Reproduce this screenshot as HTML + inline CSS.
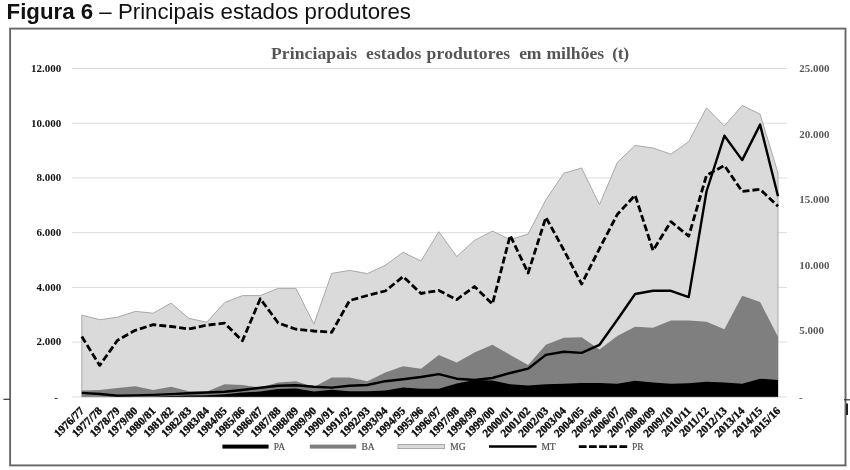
<!DOCTYPE html>
<html><head><meta charset="utf-8"><title>Figura 6</title>
<style>
html,body{margin:0;padding:0;background:#fff;}
body{width:850px;height:470px;position:relative;overflow:hidden;font-family:"Liberation Sans",sans-serif;}
.cap{position:absolute;left:6.6px;top:-1.3px;font-size:22.25px;line-height:26px;color:#111;white-space:nowrap;}
.cap b{font-weight:bold}
svg text{font-family:"Liberation Serif",serif;font-weight:bold;}
.ax{font-size:11px;fill:#111;}
.axr{font-size:11px;fill:#5a5a5a;}
.cat{font-size:11.3px;fill:#0a0a0a;stroke:#0a0a0a;stroke-width:0.35px;}
.title{font-size:17.6px;fill:#555;white-space:pre;}
.lg{font-size:9.5px;fill:#505050;stroke:#505050;stroke-width:0.2px;font-weight:normal!important;}
</style></head><body>
<svg width="850" height="470" viewBox="0 0 850 470" style="position:absolute;left:0;top:0">
<rect x="10.1" y="28.6" width="835.4" height="436.8" fill="#fff" stroke="#666" stroke-width="1.9"/>
<line x1="72" x2="787" y1="68.50" y2="68.50" stroke="#dcdcdc" stroke-width="1"/>
<line x1="72" x2="787" y1="123.22" y2="123.22" stroke="#dcdcdc" stroke-width="1"/>
<line x1="72" x2="787" y1="177.94" y2="177.94" stroke="#dcdcdc" stroke-width="1"/>
<line x1="72" x2="787" y1="232.66" y2="232.66" stroke="#dcdcdc" stroke-width="1"/>
<line x1="72" x2="787" y1="287.38" y2="287.38" stroke="#dcdcdc" stroke-width="1"/>
<line x1="72" x2="787" y1="342.10" y2="342.10" stroke="#dcdcdc" stroke-width="1"/>
<line x1="72" x2="787" y1="396.9" y2="396.9" stroke="#dcdcdc" stroke-width="1"/>
<polygon points="81.8,315.2 99.7,319.7 117.5,317.2 135.3,311.4 153.2,313.2 171.1,303.1 188.9,318.4 206.8,322.2 224.6,302.6 242.4,295.6 260.3,295.6 278.2,288.4 296.0,288.4 313.9,324.2 331.7,273.4 349.6,270.4 367.4,273.6 385.3,265.3 403.1,252.3 421.0,261.0 438.8,231.7 456.7,256.5 474.5,240.4 492.4,231.1 510.2,239.6 528.1,234.1 545.9,199.7 563.8,173.3 581.6,168.0 599.5,204.7 617.3,162.5 635.1,145.4 653.0,148.0 670.9,154.2 688.7,141.7 706.5,107.8 724.4,126.0 742.2,105.5 760.1,114.2 778.0,173.0 778.0,396.8 81.8,396.8" fill="#dadada" stroke="#a8a8a8" stroke-width="1"/>
<polygon points="81.8,390.6 99.7,390.0 117.5,388.0 135.3,386.2 153.2,390.0 171.1,386.8 188.9,391.2 206.8,391.5 224.6,384.3 242.4,385.0 260.3,387.5 278.2,382.5 296.0,381.2 313.9,387.0 331.7,377.5 349.6,377.5 367.4,381.2 385.3,372.5 403.1,366.2 421.0,368.7 438.8,354.9 456.7,362.6 474.5,352.4 492.4,344.8 510.2,354.9 528.1,364.9 545.9,344.8 563.8,337.8 581.6,337.3 599.5,349.5 617.3,336.0 635.1,326.7 653.0,327.7 670.9,320.4 688.7,320.4 706.5,321.7 724.4,329.2 742.2,295.8 760.1,302.1 778.0,336.8 778.0,396.8 81.8,396.8" fill="#7f7f7f"/>
<polygon points="81.8,396.8 99.7,396.8 117.5,396.9 135.3,396.8 153.2,396.5 171.1,396.0 188.9,395.6 206.8,395.3 224.6,394.3 242.4,392.6 260.3,391.5 278.2,389.0 296.0,388.4 313.9,391.5 331.7,389.8 349.6,391.2 367.4,391.3 385.3,390.5 403.1,387.5 421.0,388.8 438.8,388.8 456.7,383.5 474.5,380.0 492.4,380.5 510.2,384.3 528.1,385.5 545.9,384.3 563.8,383.8 581.6,383.0 599.5,383.0 617.3,383.8 635.1,380.7 653.0,382.5 670.9,383.8 688.7,383.3 706.5,381.7 724.4,382.5 742.2,383.8 760.1,378.7 778.0,380.0 778.0,396.8 81.8,396.8" fill="#000"/>
<polyline points="81.8,392.9 99.7,394.0 117.5,395.6 135.3,395.4 153.2,394.9 171.1,394.1 188.9,393.3 206.8,392.5 224.6,391.8 242.4,390.0 260.3,387.8 278.2,385.8 296.0,385.2 313.9,386.7 331.7,387.6 349.6,385.8 367.4,385.0 385.3,381.2 403.1,379.2 421.0,377.0 438.8,374.1 456.7,378.7 474.5,380.0 492.4,378.0 510.2,373.0 528.1,368.7 545.9,354.9 563.8,351.8 581.6,352.9 599.5,344.8 617.3,319.7 635.1,294.0 653.0,290.8 670.9,290.8 688.7,297.1 706.5,191.5 724.4,135.7 742.2,160.1 760.1,124.6 778.0,196.2" fill="none" stroke="#000" stroke-width="2.4" stroke-linejoin="round"/>
<polyline points="81.8,336.5 99.7,365.4 117.5,340.3 135.3,330.3 153.2,324.7 171.1,326.5 188.9,329.0 206.8,325.2 224.6,323.2 242.4,340.8 260.3,298.8 278.2,323.0 296.0,329.2 313.9,331.0 331.7,332.3 349.6,300.5 367.4,295.5 385.3,291.0 403.1,276.6 421.0,293.5 438.8,290.4 456.7,299.7 474.5,286.5 492.4,304.1 510.2,235.4 528.1,273.0 545.9,217.3 563.8,250.0 581.6,284.0 599.5,248.6 617.3,214.4 635.1,195.2 653.0,250.5 670.9,221.6 688.7,236.2 706.5,175.3 724.4,165.5 742.2,191.5 760.1,189.3 778.0,206.3" fill="none" stroke="#000" stroke-width="2.8" stroke-dasharray="7 3" stroke-linejoin="round"/>
<text x="61.2" y="71.8" text-anchor="end" class="ax">12.000</text>
<text x="61.2" y="126.5" text-anchor="end" class="ax">10.000</text>
<text x="61.2" y="181.2" text-anchor="end" class="ax">8.000</text>
<text x="61.2" y="236.0" text-anchor="end" class="ax">6.000</text>
<text x="61.2" y="290.7" text-anchor="end" class="ax">4.000</text>
<text x="61.2" y="345.4" text-anchor="end" class="ax">2.000</text>
<text x="58" y="401" text-anchor="end" class="ax">-</text>
<text x="799.3" y="71.8" class="axr">25.000</text>
<text x="799.3" y="137.5" class="axr">20.000</text>
<text x="799.3" y="203.1" class="axr">15.000</text>
<text x="799.3" y="268.8" class="axr">10.000</text>
<text x="799.3" y="334.4" class="axr">5.000</text>
<text x="799" y="400.5" class="axr">-</text>
<text transform="translate(84.8,411.5) rotate(-45)" text-anchor="end" class="cat">1976/77</text>
<text transform="translate(102.7,411.5) rotate(-45)" text-anchor="end" class="cat">1977/78</text>
<text transform="translate(120.5,411.5) rotate(-45)" text-anchor="end" class="cat">1978/79</text>
<text transform="translate(138.3,411.5) rotate(-45)" text-anchor="end" class="cat">1979/80</text>
<text transform="translate(156.2,411.5) rotate(-45)" text-anchor="end" class="cat">1980/81</text>
<text transform="translate(174.1,411.5) rotate(-45)" text-anchor="end" class="cat">1981/82</text>
<text transform="translate(191.9,411.5) rotate(-45)" text-anchor="end" class="cat">1982/83</text>
<text transform="translate(209.8,411.5) rotate(-45)" text-anchor="end" class="cat">1983/84</text>
<text transform="translate(227.6,411.5) rotate(-45)" text-anchor="end" class="cat">1984/85</text>
<text transform="translate(245.4,411.5) rotate(-45)" text-anchor="end" class="cat">1985/86</text>
<text transform="translate(263.3,411.5) rotate(-45)" text-anchor="end" class="cat">1986/87</text>
<text transform="translate(281.2,411.5) rotate(-45)" text-anchor="end" class="cat">1987/88</text>
<text transform="translate(299.0,411.5) rotate(-45)" text-anchor="end" class="cat">1988/89</text>
<text transform="translate(316.9,411.5) rotate(-45)" text-anchor="end" class="cat">1989/90</text>
<text transform="translate(334.7,411.5) rotate(-45)" text-anchor="end" class="cat">1990/91</text>
<text transform="translate(352.6,411.5) rotate(-45)" text-anchor="end" class="cat">1991/92</text>
<text transform="translate(370.4,411.5) rotate(-45)" text-anchor="end" class="cat">1992/93</text>
<text transform="translate(388.3,411.5) rotate(-45)" text-anchor="end" class="cat">1993/94</text>
<text transform="translate(406.1,411.5) rotate(-45)" text-anchor="end" class="cat">1994/95</text>
<text transform="translate(424.0,411.5) rotate(-45)" text-anchor="end" class="cat">1995/96</text>
<text transform="translate(441.8,411.5) rotate(-45)" text-anchor="end" class="cat">1996/97</text>
<text transform="translate(459.7,411.5) rotate(-45)" text-anchor="end" class="cat">1997/98</text>
<text transform="translate(477.5,411.5) rotate(-45)" text-anchor="end" class="cat">1998/99</text>
<text transform="translate(495.4,411.5) rotate(-45)" text-anchor="end" class="cat">1999/00</text>
<text transform="translate(513.2,411.5) rotate(-45)" text-anchor="end" class="cat">2000/01</text>
<text transform="translate(531.1,411.5) rotate(-45)" text-anchor="end" class="cat">2001/02</text>
<text transform="translate(548.9,411.5) rotate(-45)" text-anchor="end" class="cat">2002/03</text>
<text transform="translate(566.8,411.5) rotate(-45)" text-anchor="end" class="cat">2003/04</text>
<text transform="translate(584.6,411.5) rotate(-45)" text-anchor="end" class="cat">2004/05</text>
<text transform="translate(602.5,411.5) rotate(-45)" text-anchor="end" class="cat">2005/06</text>
<text transform="translate(620.3,411.5) rotate(-45)" text-anchor="end" class="cat">2006/07</text>
<text transform="translate(638.1,411.5) rotate(-45)" text-anchor="end" class="cat">2007/08</text>
<text transform="translate(656.0,411.5) rotate(-45)" text-anchor="end" class="cat">2008/09</text>
<text transform="translate(673.9,411.5) rotate(-45)" text-anchor="end" class="cat">2009/10</text>
<text transform="translate(691.7,411.5) rotate(-45)" text-anchor="end" class="cat">2010/11</text>
<text transform="translate(709.5,411.5) rotate(-45)" text-anchor="end" class="cat">2011/12</text>
<text transform="translate(727.4,411.5) rotate(-45)" text-anchor="end" class="cat">2012/13</text>
<text transform="translate(745.2,411.5) rotate(-45)" text-anchor="end" class="cat">2013/14</text>
<text transform="translate(763.1,411.5) rotate(-45)" text-anchor="end" class="cat">2014/15</text>
<text transform="translate(781.0,411.5) rotate(-45)" text-anchor="end" class="cat">2015/16</text>
<text x="270.9" y="59.3" textLength="86.1" lengthAdjust="spacing" class="title">Princiapais</text>
<text x="366.0" y="59.3" textLength="55.3" lengthAdjust="spacing" class="title">estados</text>
<text x="426.6" y="59.3" textLength="83.6" lengthAdjust="spacing" class="title">produtores</text>
<text x="519.2" y="59.3" textLength="22.2" lengthAdjust="spacing" class="title">em</text>
<text x="546.4" y="59.3" textLength="57.7" lengthAdjust="spacing" class="title">milhões</text>
<text x="612.3" y="59.3" textLength="16.9" lengthAdjust="spacing" class="title">(t)</text>
<rect x="222.4" y="444.6" width="46.2" height="4" fill="#000"/>
<text x="273.8" y="449.70000000000005" class="lg">PA</text>
<rect x="309.8" y="444.6" width="46.4" height="4" fill="#7f7f7f"/>
<text x="361.4" y="449.70000000000005" class="lg">BA</text>
<rect x="398" y="444.6" width="46.6" height="4" fill="#dadada" stroke="#a0a0a0" stroke-width="0.9"/>
<text x="450.2" y="449.70000000000005" class="lg">MG</text>
<line x1="489" x2="536.6" y1="446.6" y2="446.6" stroke="#000" stroke-width="2.5"/>
<text x="541.4" y="449.70000000000005" class="lg">MT</text>
<line x1="578.8" x2="627.2" y1="446.6" y2="446.6" stroke="#000" stroke-width="2.6" stroke-dasharray="7.8 2.35"/>
<text x="632" y="449.70000000000005" class="lg">PR</text>
<line x1="3.5" x2="10" y1="399.3" y2="399.3" stroke="#333" stroke-width="1.2"/>
<line x1="844" x2="850" y1="399.8" y2="399.8" stroke="#333" stroke-width="1.2"/>
<line x1="847" x2="847" y1="403.5" y2="415" stroke="#222" stroke-width="2"/>
</svg>
<div class="cap"><b>Figura 6</b> – Principais estados produtores</div>
</body></html>
